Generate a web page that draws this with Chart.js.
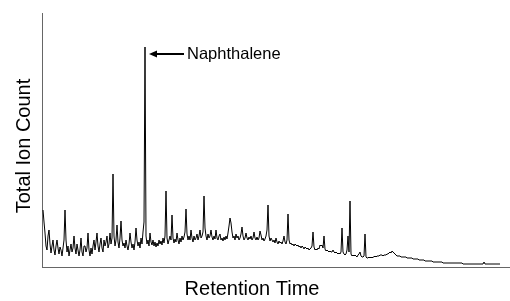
<!DOCTYPE html>
<html>
<head>
<meta charset="utf-8">
<script src="https://cdn.jsdelivr.net/npm/chart.js@4/dist/chart.umd.min.js"></script>
<style>
html,body{margin:0;padding:0;background:#fff;}
canvas{display:block;}
</style>
</head>
<body>
<canvas id="c" width="510" height="301"></canvas>
<script>
// Total ion count per scan (arbitrary units), scan 1 = first point of the trace
const ticCounts = [
57,45,34,21,17,31,37,23,14,21,27,17,12,21,27,19,13,20,17,11,19,27,57,27,15,21,11,17,23,15,
19,31,19,13,23,17,11,17,29,15,11,21,21,15,19,34,17,11,19,13,21,27,17,25,34,21,15,23,29,19,
15,27,21,25,31,19,23,34,23,29,93,31,21,27,42,25,19,29,46,27,21,24,19,27,21,17,23,34,25,19,
23,17,25,39,27,21,25,19,29,23,35,45,220,31,23,27,21,34,25,22,27,21,25,20,24,21,27,23,26,22,
29,24,31,76,29,23,27,31,27,52,29,24,28,25,34,27,23,29,25,31,27,30,35,58,33,27,31,27,37,29,
25,31,27,29,33,27,31,37,29,31,35,71,39,31,27,33,29,31,37,30,27,31,28,37,29,27,31,33,27,29,
26,30,27,31,28,34,41,49,44,35,29,31,27,33,29,31,27,29,33,40,31,27,29,34,29,27,30,28,31,27,
29,35,29,27,30,27,29,36,32,27,29,26,28,31,37,62,31,26,29,27,25,27,24,29,25,23,26,24,25,23,
26,31,25,23,27,53,27,23,24,22,23,21,23,22,21,22,20,21,19,21,20,18,20,19,18,19,17,18,19,21,
35,20,17,18,17,19,18,22,21,22,19,31,18,16,17,16,15,16,15,15,17,15,14,15,14,13,14,13,15,39,
15,13,12,13,17,31,15,66,13,11,12,11,12,11,10,12,13,15,11,10,10,11,33,10,9,9,10,9,10,9,
10,10,11,10,11,11,11,12,12,12,11,12,12,12,13,13,14,15,14,16,15,14,13,12,
11,11,11,11,10,10,10,10,10,10,9,9,9,9,9,9,8,8,8,8,8,8,7,7,7,7,7,7,
6,6,6,6,6,6,6,6,5,5,5,5,5,5,5,5,5,5,
4,4,4,4,4,4,4,4,4,4,4,4,4,4,4,4,4,4,4,4,
3,3,3,3,3,3,3,3,3,3,3,3,3,3,3,3,3,3,3,3,3,5,
3,3,3,3,3,3,3,3,3,3,3,3,3,3,3,3
];
const scanRange = [0, 468];
const countRange = [0, 254];
const peakLabel = "Naphthalene";
const peakScan = 103;
const xTitle = "Retention Time";
const yTitle = "Total Ion Count";

const points = ticCounts.map((v, i) => ({x: i + 1, y: v}));
const FONT = '"Liberation Sans", Arial, sans-serif';

const annot = {
  id: 'annot',
  afterDraw(chart) {
    const {ctx, scales} = chart;
    const px = scales.x.getPixelForValue(peakScan);
    const py = 54;
    ctx.save();
    ctx.strokeStyle = '#000';
    ctx.fillStyle = '#000';
    ctx.lineWidth = 2;
    ctx.beginPath();
    ctx.moveTo(px + 10, py);
    ctx.lineTo(px + 39, py);
    ctx.stroke();
    ctx.beginPath();
    ctx.moveTo(px + 4, py);
    ctx.lineTo(px + 12, py - 3.5);
    ctx.lineTo(px + 12, py + 3.5);
    ctx.closePath();
    ctx.fill();
    ctx.font = '16.5px ' + FONT;
    ctx.textBaseline = 'middle';
    ctx.textAlign = 'left';
    ctx.fillText(peakLabel, px + 42, py);

    // axis titles
    ctx.font = '20px ' + FONT;
    ctx.textAlign = 'center';
    ctx.textBaseline = 'middle';
    ctx.fillText(xTitle, 252, 289);
    ctx.translate(24, 146);
    ctx.rotate(-Math.PI / 2);
    ctx.fillText(yTitle, 0, 0);
    ctx.restore();
  }
};

new Chart(document.getElementById('c'), {
  type: 'line',
  data: {
    datasets: [{
      data: points,
      borderColor: '#000',
      borderWidth: 1,
      pointRadius: 0,
      tension: 0,
      fill: false
    }]
  },
  options: {
    responsive: false,
    animation: false,
    devicePixelRatio: 1,
    layout: {padding: {top: 13, left: 0, right: 0, bottom: 0}},
    plugins: {legend: {display: false}, tooltip: {enabled: false}},
    scales: {
      x: {
        type: 'linear',
        min: scanRange[0], max: scanRange[1],
        ticks: {display: false},
        grid: {display: false},
        border: {display: true, color: '#666', width: 1},
        title: {display: false, text: xTitle},
        afterFit(s) { s.height = 34; }
      },
      y: {
        min: countRange[0], max: countRange[1],
        ticks: {display: false},
        grid: {display: false},
        border: {display: true, color: '#666', width: 1},
        title: {display: false, text: yTitle},
        afterFit(s) { s.width = 42; }
      }
    }
  },
  plugins: [annot]
});
</script>
</body>
</html>
